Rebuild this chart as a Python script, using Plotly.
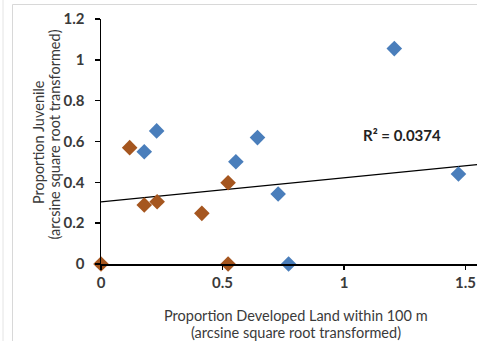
import plotly.graph_objects as go

# Data
brown_x = [0.0, 0.118, 0.178, 0.231, 0.415, 0.523, 0.523]
brown_y = [0.0, 0.570, 0.289, 0.305, 0.248, 0.398, 0.0]
blue_x = [0.178, 0.229, 0.555, 0.644, 0.729, 0.772, 1.207, 1.471, 1.553]
blue_y = [0.550, 0.652, 0.501, 0.619, 0.343, 0.0, 1.055, 0.441, 0.371]
trend_intercept = 0.304
trend_slope = 0.118
r2_text = "R² = 0.0374"
x_ticks = [0, 0.5, 1, 1.5]
y_ticks = [0, 0.2, 0.4, 0.6, 0.8, 1.0, 1.2]
y_tick_text = ["0", "0.2", "0.4", "0.6", "0.8", "1", "1.2"]
x_title_lines = ["Proportion Developed Land within 100 m", "(arcsine square root transformed)"]
y_title_lines = ["Proportion Juvenile", "(arcsine square root transformed)"]

W, H = 477, 341
L, R, T, B = 101, 0, 19, 77
PW = W - L - R
PH = H - T - B
X_MAX = PW / 243.0
FONT = "Lato, 'Open Sans', sans-serif"
TXT = "#3a3a3a"


def fx(px):  # window pixel x -> paper x
    return (px - L) / PW


def fy(py):  # window pixel y -> paper y
    return (T + PH - py) / PH


fig = go.Figure()

fig.add_trace(go.Scatter(
    x=[0, X_MAX + 0.1],
    y=[trend_intercept, trend_intercept + trend_slope * (X_MAX + 0.1)],
    mode="lines", line=dict(color="black", width=1.2),
    hoverinfo="skip", showlegend=False, cliponaxis=True))

fig.add_trace(go.Scatter(
    x=brown_x, y=brown_y, mode="markers",
    marker=dict(symbol="diamond", size=12, color="#A5561F"),
    showlegend=False, cliponaxis=False))

fig.add_trace(go.Scatter(
    x=blue_x, y=blue_y, mode="markers",
    marker=dict(symbol="diamond", size=12, color="#4A7EBB"),
    showlegend=False, cliponaxis=False))

annotations = [
    dict(text=r2_text, x=fx(402), y=fy(135), xref="paper", yref="paper",
         showarrow=False, font=dict(family=FONT, size=15, color="#222", weight="bold"),
         xanchor="center", yanchor="middle"),
    dict(text=x_title_lines[0], x=fx(296), y=fy(315), xref="paper", yref="paper",
         showarrow=False, font=dict(family=FONT, size=14.5, color=TXT),
         xanchor="center", yanchor="middle"),
    dict(text=x_title_lines[1], x=fx(296), y=fy(332), xref="paper", yref="paper",
         showarrow=False, font=dict(family=FONT, size=14.5, color=TXT),
         xanchor="center", yanchor="middle"),
    dict(text=y_title_lines[0], textangle=-90, x=fx(38), y=fy(142),
         xref="paper", yref="paper", showarrow=False,
         font=dict(family=FONT, size=14.5, color=TXT),
         xanchor="center", yanchor="middle"),
    dict(text=y_title_lines[1], textangle=-90, x=fx(53.5), y=fy(135),
         xref="paper", yref="paper", showarrow=False,
         font=dict(family=FONT, size=14.5, color=TXT),
         xanchor="center", yanchor="middle"),
]

fig.update_layout(
    width=W, height=H,
    margin=dict(l=L, r=R, t=T, b=B, pad=0),
    paper_bgcolor="white", plot_bgcolor="white",
    font=dict(family=FONT, size=14, color=TXT),
    hovermode=False,
    xaxis=dict(
        range=[0, X_MAX], tickvals=x_ticks,
        ticktext=[str(v) for v in x_ticks],
        showgrid=False, zeroline=False,
        showline=True, linecolor="black", linewidth=2,
        ticks="outside", ticklen=4, tickwidth=1.5, tickcolor="black",
        tickfont=dict(family=FONT, size=15, color=TXT, weight="bold"),
        ticklabelstandoff=0,
    ),
    yaxis=dict(
        range=[0, 1.2], tickvals=y_ticks, ticktext=y_tick_text,
        showgrid=False, zeroline=False,
        showline=True, linecolor="black", linewidth=1.5,
        ticks="outside", ticklen=5, tickwidth=1.5, tickcolor="black",
        tickfont=dict(family=FONT, size=15, color=TXT, weight="bold"),
        ticklabelstandoff=7,
    ),
    annotations=annotations,
    shapes=[
        dict(type="line", xref="paper", yref="paper",
             x0=fx(3), x1=fx(3), y0=fy(345), y1=fy(-5),
             line=dict(color="#e4e4e4", width=1)),
        dict(type="line", xref="paper", yref="paper",
             x0=fx(12.5), x1=fx(12.5), y0=fy(345), y1=fy(4.5),
             line=dict(color="#d8d8d8", width=1)),
        dict(type="line", xref="paper", yref="paper",
             x0=fx(12.5), x1=fx(480), y0=fy(4.5), y1=fy(4.5),
             line=dict(color="#d8d8d8", width=1)),
    ],
)

fig.write_html(
    "out.html",
    config={"displayModeBar": False, "staticPlot": True},
    post_script="document.body.style.margin='0';document.body.style.overflow='hidden';",
)
